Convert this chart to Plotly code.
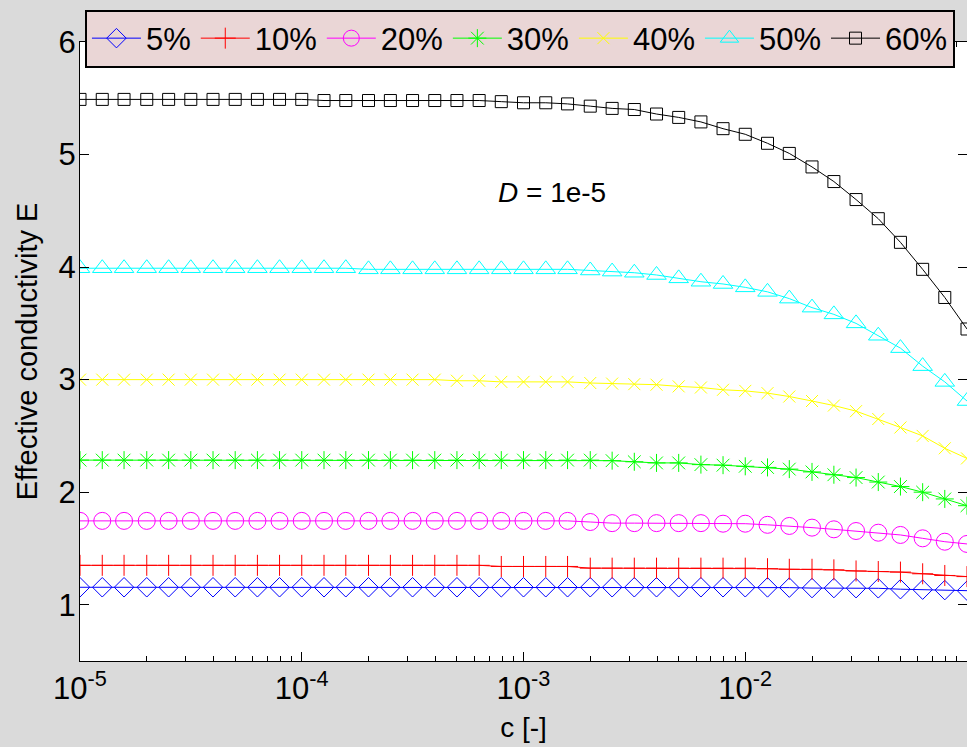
import plotly.graph_objects as go

# concentration c [-] (10 points per decade)
c = [1.00e-5, 1.26e-5, 1.58e-5, 2.00e-5, 2.51e-5, 3.16e-5, 3.98e-5, 5.01e-5, 6.31e-5, 7.94e-5,
     1.00e-4, 1.26e-4, 1.58e-4, 2.00e-4, 2.51e-4, 3.16e-4, 3.98e-4, 5.01e-4, 6.31e-4, 7.94e-4,
     1.00e-3, 1.26e-3, 1.58e-3, 2.00e-3, 2.51e-3, 3.16e-3, 3.98e-3, 5.01e-3, 6.31e-3, 7.94e-3,
     1.00e-2, 1.26e-2, 1.58e-2, 2.00e-2, 2.51e-2, 3.16e-2, 3.98e-2, 5.01e-2, 6.31e-2, 7.94e-2,
     1.00e-1]

E05 = [1.155, 1.155, 1.155, 1.155, 1.155, 1.155, 1.155, 1.155, 1.155, 1.155,
       1.155, 1.155, 1.155, 1.155, 1.155, 1.155, 1.155, 1.155, 1.155, 1.155,
       1.155, 1.155, 1.155, 1.155, 1.155, 1.155, 1.155, 1.155, 1.155, 1.155,
       1.155, 1.154, 1.152, 1.148, 1.148, 1.147, 1.146, 1.138, 1.134, 1.130,
       1.125]
E10 = [1.35, 1.35, 1.35, 1.35, 1.35, 1.35, 1.35, 1.35, 1.35, 1.35,
       1.35, 1.35, 1.35, 1.35, 1.35, 1.35, 1.35, 1.35, 1.35, 1.34,
       1.34, 1.34, 1.34, 1.325, 1.325, 1.325, 1.325, 1.325, 1.325, 1.325,
       1.325, 1.32, 1.315, 1.315, 1.31, 1.30, 1.295, 1.29, 1.275, 1.26,
       1.25]
E20 = [1.745, 1.745, 1.745, 1.745, 1.745, 1.745, 1.745, 1.745, 1.745, 1.745,
       1.745, 1.745, 1.745, 1.745, 1.745, 1.745, 1.745, 1.745, 1.745, 1.745,
       1.745, 1.745, 1.745, 1.735, 1.725, 1.725, 1.725, 1.725, 1.725, 1.72,
       1.72, 1.71, 1.70, 1.685, 1.67, 1.655, 1.64, 1.62, 1.59, 1.56,
       1.54]
E30 = [2.285, 2.285, 2.285, 2.285, 2.285, 2.285, 2.285, 2.285, 2.285, 2.285,
       2.285, 2.285, 2.285, 2.285, 2.285, 2.285, 2.285, 2.285, 2.285, 2.285,
       2.285, 2.285, 2.285, 2.285, 2.28, 2.27, 2.26, 2.26, 2.245, 2.24,
       2.23, 2.22, 2.205, 2.18, 2.155, 2.13, 2.09, 2.05, 2.00, 1.94,
       1.88]
E40 = [3.00, 3.00, 3.00, 3.00, 3.00, 3.00, 3.00, 3.00, 3.00, 3.00,
       3.00, 3.00, 3.00, 3.00, 3.00, 3.00, 3.00, 2.99, 2.99, 2.98,
       2.98, 2.98, 2.98, 2.97, 2.965, 2.96, 2.955, 2.94, 2.93, 2.91,
       2.90, 2.88, 2.85, 2.81, 2.77, 2.72, 2.65, 2.575, 2.50, 2.39,
       2.30]
E50 = [3.99, 3.99, 3.99, 3.99, 3.99, 3.99, 3.99, 3.99, 3.99, 3.99,
       3.99, 3.99, 3.99, 3.98, 3.98, 3.98, 3.98, 3.98, 3.98, 3.98,
       3.98, 3.98, 3.98, 3.97, 3.96, 3.95, 3.93, 3.90, 3.87, 3.85,
       3.82, 3.78, 3.72, 3.64, 3.58, 3.50, 3.39, 3.28, 3.12, 2.98,
       2.81]
E60 = [5.49, 5.49, 5.49, 5.49, 5.49, 5.49, 5.49, 5.49, 5.49, 5.49,
       5.49, 5.48, 5.48, 5.48, 5.48, 5.48, 5.48, 5.48, 5.48, 5.47,
       5.46, 5.46, 5.45, 5.43, 5.41, 5.40, 5.36, 5.33, 5.29, 5.23,
       5.18, 5.10, 5.01, 4.89, 4.76, 4.60, 4.43, 4.22, 3.98, 3.73,
       3.45]

series_names = ["5%", "10%", "20%", "30%", "40%", "50%", "60%"]
series_values = [E05, E10, E20, E30, E40, E50, E60]
series_colors = ["#0000FF", "#FF0000", "#FF00FF", "#00FF00", "#FFFF00", "#00FFFF", "#000000"]
series_symbols = ["diamond-open", "cross-thin-open", "circle-open", "asterisk-open",
                  "x-thin-open", "triangle-up-open", "square-open"]
series_sizes = [15, 15, 17, 15, 12, 17, 12]

x_tickvals = [1e-5, 1e-4, 1e-3, 1e-2, 1e-1]
x_ticktext = ["10<sup>-5</sup>", "10<sup>-4</sup>", "10<sup>-3</sup>", "10<sup>-2</sup>", "10<sup>-1</sup>"]
x_minor_tickvals = [2e-5, 3e-5, 4e-5, 5e-5, 6e-5, 7e-5, 8e-5, 9e-5,
                    2e-4, 3e-4, 4e-4, 5e-4, 6e-4, 7e-4, 8e-4, 9e-4,
                    2e-3, 3e-3, 4e-3, 5e-3, 6e-3, 7e-3, 8e-3, 9e-3,
                    2e-2, 3e-2, 4e-2, 5e-2, 6e-2, 7e-2, 8e-2, 9e-2]
y_tickvals = [1, 2, 3, 4, 5, 6]

FONT = "Liberation Sans, Arial, sans-serif"

fig = go.Figure()
for name, vals, col, sym, sz in zip(series_names, series_values, series_colors,
                                     series_symbols, series_sizes):
    fig.add_trace(go.Scatter(
        x=c, y=vals, name=name, mode="lines+markers",
        line=dict(color=col, width=1),
        marker=dict(symbol=sym, size=sz, color=col, line=dict(color=col, width=1)),
    ))

fig.add_annotation(x=-2.872, y=4.66, xref="x", yref="y", showarrow=False,
                   text="<i>D</i> = 1e-5", font=dict(size=28, family=FONT, color="black"))

axis_common = dict(
    showline=True, linecolor="black", linewidth=1, mirror="ticks",
    ticks="inside", ticklen=9, tickcolor="black", showgrid=False, zeroline=False,
    tickfont=dict(size=31, family=FONT, color="black"),
)

fig.update_layout(
    width=967, height=747,
    margin=dict(l=80, r=0, t=42, b=86, pad=0),
    paper_bgcolor="#DADADA", plot_bgcolor="white",
    font=dict(family=FONT, color="black"),
    xaxis=dict(type="log", range=[-5, -1], tickmode="array",
               tickvals=x_tickvals, ticktext=x_ticktext,
               minor=dict(tickmode="array", tickvals=x_minor_tickvals, ticks="inside",
                          ticklen=5, tickcolor="black", showgrid=False),
               title=dict(text="c [-]", font=dict(size=28, family=FONT), standoff=12),
               **axis_common),
    yaxis=dict(range=[0.5, 6], tickmode="array", tickvals=y_tickvals,
               ticklabelstandoff=-3,
               title=dict(text="Effective conductivity E", font=dict(size=29, family=FONT), standoff=12),
               **axis_common),
    legend=dict(orientation="h", x=0.0056, xanchor="left", y=1.0525, yanchor="top",
                bgcolor="#EAD6D6", bordercolor="black", borderwidth=2,
                font=dict(size=31, family=FONT, color="black"),
                itemwidth=49, tracegroupgap=0),
    showlegend=True,
)

fig.write_html("out.html")
